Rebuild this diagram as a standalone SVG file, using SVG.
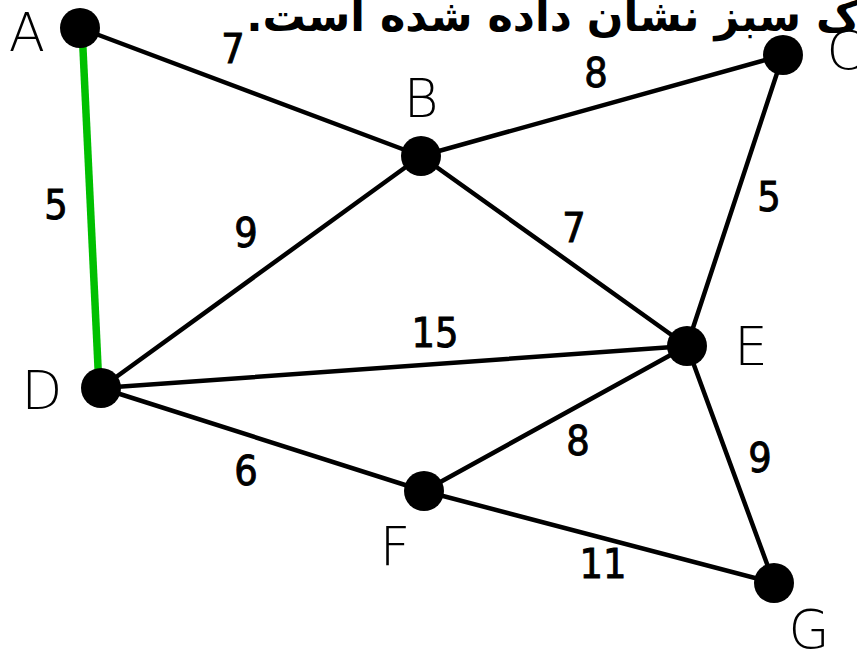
<svg xmlns="http://www.w3.org/2000/svg" width="857" height="653" viewBox="0 0 857 653">
<style>
.edge{stroke:#000;stroke-width:4.5;stroke-linecap:round}
.mst{stroke:#00c000;stroke-width:7.5;stroke-linecap:butt}
.node{fill:#000}
.lbl{font-family:"DejaVu Sans","Liberation Sans",sans-serif;font-size:53px;font-weight:300;text-anchor:middle;fill:#000}
.w{font-family:"DejaVu Sans Condensed","DejaVu Sans",sans-serif;font-stretch:condensed;font-size:41px;font-weight:normal;text-anchor:middle;fill:#000;stroke:#000;stroke-width:0.9}
.title{font-family:"DejaVu Sans","Noto Sans",sans-serif;font-size:43px;font-weight:bold;fill:#000}
</style>
<rect width="857" height="653" fill="#fff"/>
<text class="title" x="860" y="31" direction="rtl" text-anchor="start">ک سبز نشان داده شده است.</text>
<g id="edges">
<line class="edge" x1="80" y1="28" x2="421" y2="156"/>
<line class="edge" x1="421" y1="156" x2="783" y2="55"/>
<line class="edge" x1="421" y1="156" x2="101" y2="388"/>
<line class="edge" x1="421" y1="156" x2="687" y2="346"/>
<line class="edge" x1="783" y1="55" x2="687" y2="346"/>
<line class="edge" x1="101" y1="388" x2="687" y2="346"/>
<line class="edge" x1="101" y1="388" x2="424" y2="491"/>
<line class="edge" x1="687" y1="346" x2="424" y2="491"/>
<line class="edge" x1="687" y1="346" x2="774" y2="583"/>
<line class="edge" x1="424" y1="491" x2="774" y2="583"/>
<line class="mst" x1="82" y1="28" x2="99" y2="388"/>
</g>
<g id="weights">
<text class="w" x="233" y="63">7</text>
<text class="w" x="596" y="87">8</text>
<text class="w" x="56" y="219">5</text>
<text class="w" x="246" y="247">9</text>
<text class="w" x="574" y="242">7</text>
<text class="w" x="769" y="211">5</text>
<text class="w" x="435" y="347">15</text>
<text class="w" x="578" y="455">8</text>
<text class="w" x="760" y="472">9</text>
<text class="w" x="246" y="485">6</text>
<text class="w" x="603" y="578">11</text>
</g>
<g id="node-A"><circle class="node" cx="80" cy="28" r="20"/><text class="lbl" x="27" y="51">A</text></g>
<g id="node-B"><circle class="node" cx="421" cy="156" r="20"/><text class="lbl" x="421" y="117">B</text></g>
<g id="node-C"><circle class="node" cx="783" cy="55" r="20"/><text class="lbl" x="845" y="69">C</text></g>
<g id="node-D"><circle class="node" cx="101" cy="388" r="20"/><text class="lbl" x="42" y="409">D</text></g>
<g id="node-E"><circle class="node" cx="687" cy="346" r="20"/><text class="lbl" x="751" y="365">E</text></g>
<g id="node-F"><circle class="node" cx="424" cy="491" r="20"/><text class="lbl" x="395" y="565">F</text></g>
<g id="node-G"><circle class="node" cx="774" cy="583" r="20"/><text class="lbl" x="809" y="648">G</text></g>
</svg>
